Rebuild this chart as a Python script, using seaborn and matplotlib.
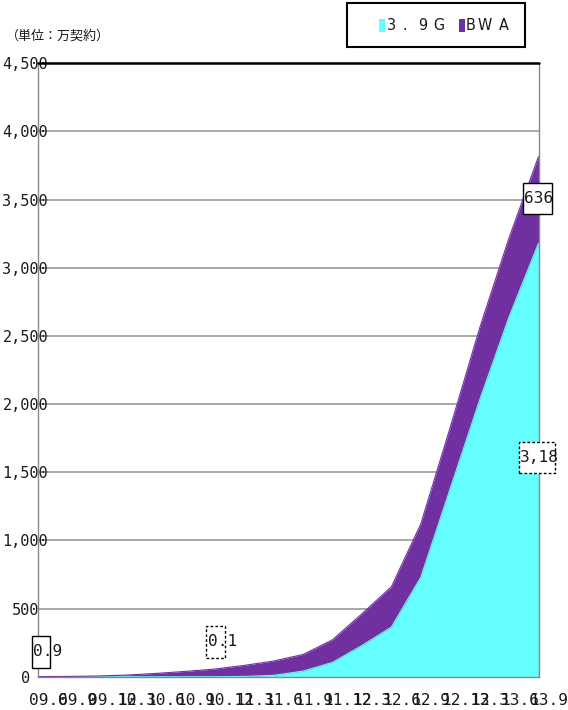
import matplotlib
matplotlib.use("Agg")
import matplotlib.pyplot as plt
import matplotlib.transforms as mtransforms
from matplotlib.patches import Rectangle
import seaborn as sns
import pandas as pd

# 四半期 (年.月)
periods = ["09.6", "09.9", "09.12", "10.3", "10.6", "10.9", "10.12", "11.3", "11.6",
           "11.9", "11.12", "12.3", "12.6", "12.9", "12.12", "13.3", "13.6", "13.9"]
# 契約数 (万契約)
g39 = [0, 0, 0, 0, 0, 0, 0.1, 2, 10, 41, 105, 229, 364, 730, 1380, 2030, 2640, 3180]
bwa = [0.9, 2, 5, 12, 24, 39, 56, 81, 105, 122, 166, 233, 296, 391, 450, 528, 580, 636]
yticks = [0, 500, 1000, 1500, 2000, 2500, 3000, 3500, 4000, 4500]

CYAN = "#66FFFF"
PURPLE = "#7030A0"
TXT = "#1a1a1a"
MONO = ["DejaVu Sans Mono"]

df = pd.DataFrame({"x": range(len(periods)), "g39": g39, "bwa": bwa})
df["total"] = df["g39"] + df["bwa"]

sns.set_style("white")
plt.rcParams["font.family"] = ["DejaVu Sans"]

fig = plt.figure(figsize=(5.68, 7.10), dpi=100)
ax = fig.add_axes([38.3 / 568, 1 - 676.7 / 710, (538.5 - 38.3) / 568, (676.7 - 63.3) / 710])

ax.fill_between(df["x"], 0, df["g39"], color=CYAN, lw=0)
ax.fill_between(df["x"], df["g39"], df["total"], color=PURPLE, lw=0)
sns.lineplot(data=df, x="x", y="g39", color=CYAN, lw=0.8, ax=ax)
sns.lineplot(data=df, x="x", y="total", color=PURPLE, lw=0.8, ax=ax)

ax.set_xlim(0, len(periods) - 1)
ax.set_ylim(0, 4500)
ax.set_xlabel("")
ax.set_ylabel("")

# grid
for v in yticks[1:-1]:
    ax.axhline(v, color="#999999", lw=1.2, zorder=0)
ax.axhline(4500, color="black", lw=1.8, zorder=3, clip_on=False)

for s in ["left", "bottom", "right"]:
    ax.spines[s].set_color("#888888")
    ax.spines[s].set_linewidth(1.0)
ax.spines["top"].set_visible(False)

ax.set_yticks(yticks)
ax.set_yticklabels([f"{v:,}" for v in yticks], fontsize=11, family=MONO,
                   ha="center", color=TXT)
ax.tick_params(axis="y", length=0, pad=9.4)

ax.set_xticks(df["x"])
ax.set_xticklabels(periods, fontsize=11.6, family=MONO, ha="left", color=TXT)
ax.tick_params(axis="x", length=5, color="#888888", direction="out", pad=6.5)
offset = mtransforms.ScaledTranslation(-9.5 / 100, 0, fig.dpi_scale_trans)
for lab in ax.get_xticklabels():
    lab.set_transform(lab.get_transform() + offset)


def label_box(x, y, x0, y0, x1, y1, ls="-"):
    # box around a data label, in pixels relative to the data point
    px, py = ax.transData.transform((x, y))
    tr = mtransforms.Affine2D().translate(px, py)
    ax.add_artist(Rectangle((x0, y0), x1 - x0, y1 - y0, transform=tr, fc="white",
                            ec="black", lw=1, ls=ls, clip_on=False, zorder=5))


def label_text(x, y, s, dx, dy):
    ax.annotate(s, xy=(x, y), xytext=(dx * 0.72, dy * 0.72), textcoords="offset points",
                ha="left", va="center", fontsize=11.6, family=MONO, color=TXT,
                annotation_clip=False, zorder=6)


last = len(periods) - 1
total_last = df["total"].iloc[-1]
DASH = (0, (2, 1.5))

label_box(0, bwa[0], -6.6, 8.7, 11.7, 40.7)
label_text(0, bwa[0], "0.9", -5.5, 24.7)
label_box(6, g39[6], -9, 19, 10, 51, ls=DASH)
label_text(6, g39[6], "0.1", -6.5, 35)
label_box(last, total_last, -16, -57.5, 13, -26.5)
label_text(last, total_last, str(bwa[-1]), -14.5, -42)
label_box(last, g39[-1], -20, -229.8, 16.5, -198.8, ls=DASH)
label_text(last, g39[-1], f"{g39[-1]:,}"[:4], -19, -214.3)

# 単位
fig.text(6 / 568, 1 - 36 / 710, "（単位：万契約）", fontsize=9.4,
         family=["Noto Sans CJK JP", "DejaVu Sans"], ha="left", va="center", color=TXT)

# 凡例
fig.add_artist(Rectangle((347 / 568, 1 - 46.7 / 710), 178 / 568, 43.4 / 710,
                         transform=fig.transFigure, fill=False, ec="black", lw=1.5))
fig.add_artist(Rectangle((379 / 568, 1 - 31.5 / 710), 6 / 568, 12.5 / 710,
                         transform=fig.transFigure, fc=CYAN, lw=0))
fig.add_artist(Rectangle((459 / 568, 1 - 31.5 / 710), 6 / 568, 12.5 / 710,
                         transform=fig.transFigure, fc=PURPLE, lw=0))
for ch, cx in zip("3.9G", [391.5, 405, 422.5, 438.5]):
    fig.text(cx / 568, 1 - 25.5 / 710, ch, fontsize=11.5, ha="center", va="center",
             color=TXT, fontstretch="condensed")
for ch, cx in zip("BWA", [470.5, 485, 503.5]):
    fig.text(cx / 568, 1 - 25.5 / 710, ch, fontsize=11.5, ha="center", va="center",
             color=TXT, fontstretch="condensed")

fig.savefig("out.png", dpi=100)
